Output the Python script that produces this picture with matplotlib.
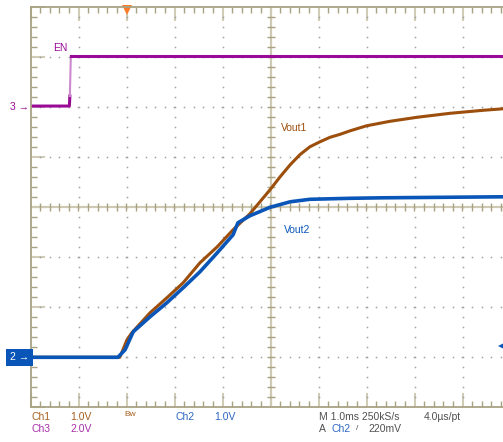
import numpy as np
import matplotlib
matplotlib.use('Agg')
import matplotlib.pyplot as plt
from matplotlib.patches import Rectangle
from matplotlib.transforms import blended_transform_factory

plt.rcParams['font.family'] = ['Liberation Sans', 'DejaVu Sans']

W, H = 503, 442

# time in ms relative to the trigger (1 ms/div), voltages in V
t_en = [-2.0, -1.19, -1.18, -1.16, 7.84]
v_en = [0.05, 0.05, 0.45, 2.05, 2.05]

t_vout1 = [-2.0, -0.14, 0.01, 0.11, 0.49, 0.84, 1.18, 1.53, 1.89, 2.22, 2.57,
           2.78, 2.99, 3.20, 3.41, 3.61, 3.82, 4.03, 4.24, 4.45, 4.66, 5.00,
           5.49, 6.05, 6.74, 7.43, 7.84]
v_vout1 = [0.0, 0.0, 0.35, 0.49, 0.89, 1.19, 1.49, 1.89, 2.21, 2.55, 2.87,
           3.11, 3.35, 3.61, 3.85, 4.05, 4.21, 4.31, 4.40, 4.46, 4.53, 4.63,
           4.72, 4.80, 4.88, 4.94, 4.97]

t_vout2 = [-2.0, -0.18, -0.03, 0.14, 0.49, 0.84, 1.18, 1.53, 1.89, 2.22, 2.32,
           2.57, 2.99, 3.41, 3.82, 4.66, 5.34, 7.84]
v_vout2 = [0.0, 0.0, 0.15, 0.51, 0.81, 1.09, 1.39, 1.71, 2.09, 2.45, 2.69,
           2.83, 3.00, 3.11, 3.16, 3.18, 3.19, 3.21]

trig_level = 0.22  # V on Ch2

# channel settings: volts/div and ground position (div from centre)
ch12_scale, ch12_gnd = 1.0, -3.0
ch3_scale, ch3_gnd = 2.0, 2.0

def to_div(v, scale, gnd):
    return np.asarray(v) / scale + gnd

purple = '#990A96'
purple_light = '#CC88CC'
brown = '#9C4E0C'
blue = '#0A55B8'
grat = '#A8A283'
grat_light = '#D0CCB6'

fig = plt.figure(figsize=(W / 100, H / 100), dpi=100)
ax = fig.add_axes([30.5 / W, (H - 407.3) / H, 480 / W, 400 / H])
ax.set_xlim(-2, 8)
ax.set_ylim(-4, 4)

# graticule border and ticks
for s in ['left', 'top', 'bottom']:
    ax.spines[s].set_color(grat)
    ax.spines[s].set_linewidth(1.3)
ax.spines['right'].set_visible(False)
ax.set_xticks(np.arange(-2, 9, 1))
ax.set_xticks(np.arange(-2, 8.01, 0.2), minor=True)
ax.set_yticks(np.arange(-4, 5, 1))
ax.set_yticks(np.arange(-4, 4.01, 0.2), minor=True)
ax.tick_params(which='both', direction='in', top=True, bottom=True, left=True,
               right=False, labelbottom=False, labelleft=False)
ax.tick_params(which='minor', length=4, width=1, color=grat)
ax.tick_params(which='major', length=10, width=1.5, color=grat_light)

# dotted division lines
ys = np.arange(-4, 4.01, 0.2)[1:-1]
xs = np.arange(-2, 8.01, 0.2)[1:-1]
for xv in [-1, 0, 1, 2, 4, 5, 6, 7]:
    ax.plot([xv] * len(ys), ys, ls='none', marker='s', ms=1.1, mew=0,
            color='#A0A0A0')
for yv in [-3, -2, -1, 1, 2, 3]:
    ax.plot(xs, [yv] * len(xs), ls='none', marker='s', ms=1.1, mew=0,
            color='#A0A0A0')

# centre cross with ticks
ax.axvline(3, color='#CDC9B2', lw=1.6)
ax.axhline(0, color='#CDC9B2', lw=1.6)
ax.plot([3] * len(ys), ys, ls='none', marker='_', ms=6, mew=1, color=grat)
ax.plot(xs, [0] * len(xs), ls='none', marker='|', ms=6, mew=1, color=grat)

# traces
en_d = to_div(v_en, ch3_scale, ch3_gnd)
ax.plot(t_en[:3], en_d[:3], color=purple, lw=2.2)
ax.plot(t_en[2:4], en_d[2:4], color=purple_light, lw=1.5)
ax.plot(t_en[3:], en_d[3:], color=purple, lw=2.2)
ax.plot(t_vout1, to_div(v_vout1, ch12_scale, ch12_gnd), color=brown, lw=2.2)
ax.plot(t_vout2, to_div(v_vout2, ch12_scale, ch12_gnd), color=blue, lw=2.6)

# trigger position and level markers
ax.plot(0, 3.955, marker='v', ms=7, color='#FF7A2A', mew=0, clip_on=False)
ax.plot(7.8, to_div(trig_level, ch12_scale, ch12_gnd), marker='<', ms=5,
        color=blue, mew=0, clip_on=False)

# trace labels
ax.text(-1.53, 3.19, 'EN', color=purple, fontsize=7.5, va='center')
ax.text(3.22, 1.59, 'Vout1', color=brown, fontsize=7.5, va='center')
ax.text(3.28, -0.45, 'Vout2', color=blue, fontsize=7.5, va='center')

# channel ground markers on the left
tr = blended_transform_factory(ax.transAxes, ax.transData)
ax.text(-0.003, ch3_gnd, '3 \u2192', transform=tr, color=purple, fontsize=7.5,
        ha='right', va='center', clip_on=False)
ax.text(-0.003, ch12_gnd, '2 \u2192', transform=tr, color='white', fontsize=7.5,
        ha='right', va='center', clip_on=False,
        bbox=dict(boxstyle='square,pad=0.35', facecolor=blue, edgecolor='none'))

# status line
def ftext(x, y, s, color, size=7.5):
    fig.text(x / W, 1 - y / H, s, color=color, fontsize=size, ha='left',
             va='center')

ftext(31, 417, 'Ch1', '#A8601E')
ftext(70, 417, '1.0V', '#A8601E')
ftext(124, 415, 'Bw', '#A8601E', 6)
ftext(175, 417, 'Ch2', '#2E66C0')
ftext(214, 417, '1.0V', '#2E66C0')
ftext(319, 417, 'M 1.0ms 250kS/s', '#505050')
ftext(424, 417, '4.0\u00b5s/pt', '#505050')
ftext(31, 429, 'Ch3', '#A830A8')
ftext(70, 429, '2.0V', '#A830A8')
ftext(319, 429, 'A', '#505050')
ftext(331, 429, 'Ch2', '#2E66C0')
ftext(356, 429, '/', '#505050', 6)
ftext(368, 429, '220mV', '#505050')

fig.savefig('out.png', dpi=100)
